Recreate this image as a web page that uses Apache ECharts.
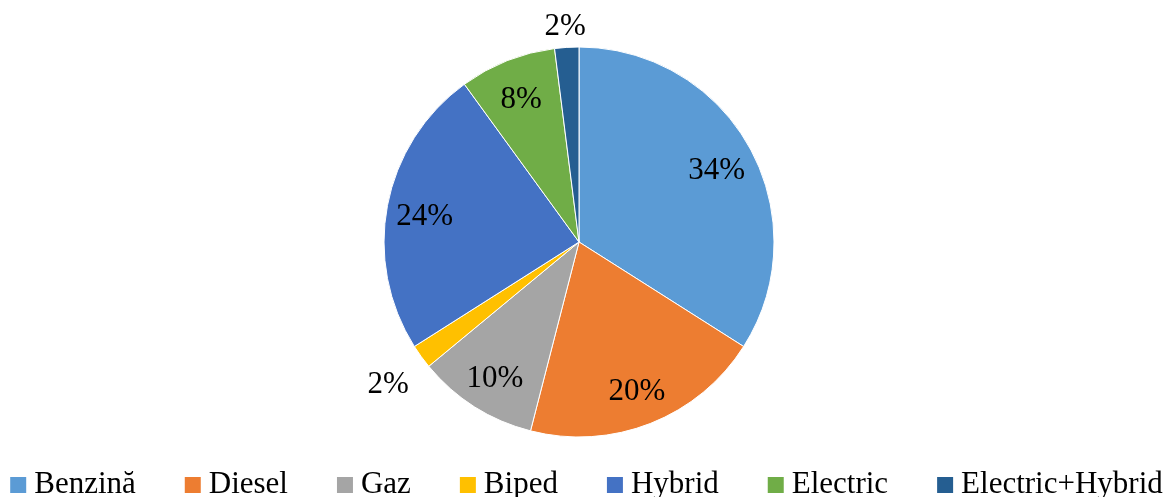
<!DOCTYPE html>
<html>
<head>
<meta charset="utf-8">
<script src="https://cdn.jsdelivr.net/npm/echarts@6/dist/echarts.min.js"></script>
<style>
  html, body { margin: 0; padding: 0; background: #fff; }
  #chart { width: 1173px; height: 497px; }
</style>
</head>
<body>
<div id="chart"></div>
<script>
// fuel type share
const categories = ['Benzină', 'Diesel', 'Gaz', 'Biped', 'Hybrid', 'Electric', 'Electric+Hybrid']
const shares = [34, 20, 10, 2, 24, 8, 2]
const colors = ['#5B9BD5', '#ED7D31', '#A5A5A5', '#FFC000', '#4472C4', '#70AD47', '#255E91']

const font = 'Liberation Serif, Times New Roman, serif'
const center = [579, 242]
// text sits a little lower than the geometric label point
const labelCenter = [579, 246]

const chart = echarts.init(document.getElementById('chart'))

// labels for big slices sit further out than the default "inside" spot,
// so they are drawn by transparent overlay pies of a larger radius
function labelSeries (radius, pick) {
  return {
    type: 'pie',
    silent: true,
    center: labelCenter,
    radius: [0, radius],
    startAngle: 90,
    clockwise: true,
    animation: false,
    itemStyle: { color: 'rgba(0,0,0,0)', borderWidth: 0 },
    labelLine: { show: false },
    data: categories.map((name, i) => ({
      name: name,
      value: shares[i],
      label: {
        show: pick(i),
        position: 'inside',
        formatter: '{c}%',
        color: '#000',
        fontFamily: font,
        fontSize: 31
      }
    }))
  }
}

const option = {
  color: colors,
  legend: {
    data: categories,
    top: 464,
    left: 'center',
    itemWidth: 16,
    itemHeight: 16,
    itemGap: 49,
    icon: 'rect',
    itemStyle: { borderWidth: 0 },
    textStyle: { fontFamily: font, fontSize: 31, lineHeight: 32, color: '#000', padding: [0, 0, 0, 3] }
  },
  series: [
    {
      type: 'pie',
      center: center,
      radius: [0, 195],
      startAngle: 90,
      clockwise: true,
      animation: false,
      itemStyle: { borderColor: '#fff', borderWidth: 1 },
      label: { show: false },
      labelLine: { show: false },
      data: categories.map((name, i) => ({ name: name, value: shares[i] }))
    },
    labelSeries(308, (i) => shares[i] > 5),
    labelSeries(466, (i) => categories[i] === 'Biped'),
    labelSeries(434, (i) => categories[i] === 'Electric+Hybrid')
  ]
}

chart.setOption(option)
</script>
</body>
</html>
